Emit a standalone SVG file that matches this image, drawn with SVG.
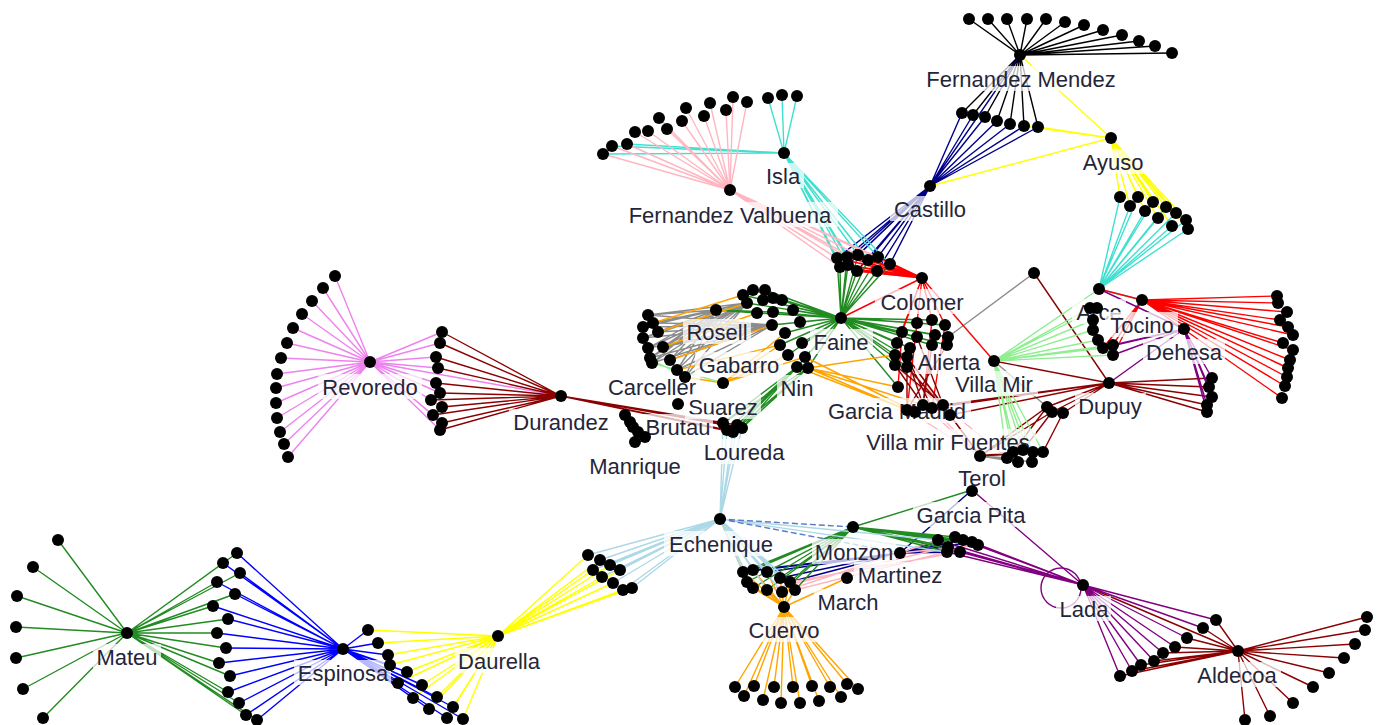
<svg xmlns="http://www.w3.org/2000/svg" width="1385" height="725" viewBox="0 0 1385 725">
<style>
.e{fill:none;stroke-width:1.4}
.k{stroke:#000}
.nv{stroke:#00008b}
.yl{stroke:#ffff00}
.tq{stroke:#40e0d0}
.pk{stroke:#ffb6c1}
.gn{stroke:#228b22}
.rd{stroke:#ff0000}
.gy{stroke:#8c8c8c}
.or{stroke:#ffa500}
.vi{stroke:#ee82ee}
.dr{stroke:#8b0000}
.lg{stroke:#90ee90}
.pu{stroke:#800080}
.lb{stroke:#add8e6}
.bl{stroke:#0000ff}
.ds{stroke:#5a78c8;stroke-dasharray:6 3}
.lab rect{fill:#fff;fill-opacity:.72}
.lab text{font-family:"Liberation Sans",Arial,sans-serif;font-size:22px;fill:#25253a;text-anchor:middle}
circle.d{fill:#000;r:6px}
</style>
<rect width="1385" height="725" fill="#fff"/>
<g id="connectors">
<path class="e k" d="M1020 55L969 19M1020 55L988 19M1020 55L1007 19M1020 55L1027 19M1020 55L1046 19M1020 55L1065 22M1020 55L1084 25M1020 55L1103 30M1020 55L1122 35M1020 55L1139 41M1020 55L1155 46M1020 55L1172 53M1020 55L962 113M1020 55L973 115M1020 55L985 117M1020 55L997 121M1020 55L1010 124M1020 55L1024 126M1020 55L1038 127"/>
<path class="e nv" d="M930 186L962 113M930 186L973 115M930 186L985 117M930 186L997 121M930 186L1010 124M930 186L1024 126M930 186L1038 127M930 186L1020 55M930 186L837 258M930 186L847 257M930 186L858 255M930 186L868 260M930 186L878 257M930 186L890 264M930 186L840 267M930 186L857 271M930 186L877 271M930 186L848 265M900 553L938 540M900 553L948 547M900 553L955 537M900 553L963 540M900 553L972 542M900 553L978 545M900 553L960 552M900 553L947 552M900 553L743 572M900 553L753 570M900 553L767 572M900 553L780 578M900 553L790 582M900 553L972 490"/>
<path class="e yl" d="M1020 55L1111 138M930 186L1111 138M1038 127L1111 138M1024 126L1111 138M1111 138L1120 197M1111 138L1130 206M1111 138L1138 197M1111 138L1145 211M1111 138L1153 202M1111 138L1158 218M1111 138L1166 207M1111 138L1172 226M1111 138L1176 213M1111 138L1186 220M1111 138L1188 229M498 636L588 555M498 636L600 560M498 636L610 565M498 636L620 570M498 636L593 570M498 636L602 577M498 636L613 583M498 636L623 590M498 636L632 588M498 636L368 630M498 636L378 643M498 636L388 655M498 636L390 665M498 636L407 672M498 636L398 683M498 636L422 685M498 636L413 698M498 636L437 697M498 636L429 709M498 636L453 707M498 636L447 718M498 636L463 719"/>
<path class="e tq" d="M1120 197L1099 289M1130 206L1099 289M1138 197L1099 289M1145 211L1099 289M1153 202L1099 289M1158 218L1099 289M1166 207L1099 289M1172 226L1099 289M1176 213L1099 289M1186 220L1099 289M1188 229L1099 289M1099 289L1142 300M784 153L768 98M784 153L782 95M784 153L797 96M784 153L603 154M784 153L612 146M784 153L627 144M784 153L837 258M784 153L847 257M784 153L858 255M784 153L868 260M784 153L878 257M784 153L890 264M784 153L840 267M784 153L857 271M784 153L877 271M784 153L848 265"/>
<path class="e pk" d="M730 190L635 132M730 190L648 131M730 190L659 118M730 190L667 129M730 190L682 121M730 190L686 108M730 190L704 116M730 190L710 103M730 190L726 110M730 190L733 97M730 190L747 102M730 190L603 154M730 190L612 146M730 190L627 144M730 190L837 258M730 190L847 257M730 190L858 255M730 190L868 260M730 190L878 257M730 190L890 264M730 190L840 267M730 190L857 271M730 190L877 271M730 190L848 265M795 590L947 552M782 592L938 540M790 582L960 552M767 590L948 547M900 553L978 545M907 410L980 456M923 405L980 456M932 408L980 456M950 415L980 456M943 405L1007 458M895 365L950 415M907 367L943 405"/>
<path class="e gy" d="M648 315L716 310M648 315L747 303M648 315L772 325M643 327L716 310M643 327L747 303M643 327L772 325M653 323L716 310M653 323L747 303M653 323L772 325M658 332L716 310M658 332L747 303M658 332L772 325M643 338L716 310M643 338L747 303M643 338L772 325M663 347L716 310M663 347L747 303M663 347L772 325M648 348L716 310M648 348L747 303M648 348L772 325M650 358L716 310M650 358L747 303M650 358L772 325M670 360L716 310M670 360L747 303M670 360L772 325M652 363L716 310M652 363L747 303M652 363L772 325M677 370L716 310M677 370L747 303M677 370L772 325M685 377L716 310M685 377L747 303M685 377L772 325M857 271L922 278M877 271L922 278M868 260L922 278M848 265L922 278M890 264L922 278M1034 273L948 337M980 456L1013 452M980 456L1023 450M980 456L1033 452M980 456L1043 452M980 456L1007 458M980 456L1018 462M980 456L1032 462M994 361L1047 407"/>
<path class="e gn" d="M841 318L837 258M841 318L847 257M841 318L858 255M841 318L868 260M841 318L878 257M841 318L890 264M841 318L840 267M841 318L857 271M841 318L877 271M841 318L848 265M841 318L743 295M841 318L753 290M841 318L765 290M841 318L747 303M841 318L763 300M841 318L773 298M841 318L782 300M841 318L757 313M841 318L773 312M841 318L793 310M841 318L772 325M841 318L785 333M841 318L800 322M841 318L780 345M841 318L802 343M841 318L788 355M841 318L805 357M841 318L797 367M841 318L808 368M841 318L917 323M841 318L932 320M841 318L945 325M841 318L902 332M841 318L917 337M841 318L935 335M841 318L897 343M841 318L910 348M841 318L932 345M841 318L947 345M841 318L895 355M841 318L907 357M841 318L895 365M841 318L907 367M841 318L948 337M841 318L898 387M797 367L723 423M797 367L727 430M797 367L733 432M797 367L737 425M797 367L742 428M808 368L723 423M808 368L733 432M808 368L742 428M716 310L757 313M716 310L773 312M127 633L58 540M127 633L33 567M127 633L17 596M127 633L16 627M127 633L16 658M127 633L23 689M127 633L43 718M127 633L237 553M127 633L223 563M127 633L240 573M127 633L217 582M127 633L235 594M127 633L213 606M127 633L228 619M127 633L217 633M127 633L226 648M127 633L219 663M127 633L230 676M127 633L228 692M127 633L239 703M127 633L246 715M127 633L257 720M853 527L743 572M853 527L753 570M853 527L767 572M853 527L747 582M853 527L753 588M853 527L767 590M853 527L780 578M853 527L782 592M853 527L795 590M853 527L790 582M853 527L938 540M853 527L948 547M853 527L955 537M853 527L963 540M853 527L972 542M853 527L978 545M853 527L960 552M853 527L947 552M853 527L972 490"/>
<path class="e rd" d="M922 278L837 258M922 278L847 257M922 278L858 255M922 278L868 260M922 278L878 257M922 278L890 264M922 278L840 267M922 278L857 271M922 278L877 271M922 278L848 265M922 278L841 318M922 278L994 361M922 278L917 323M922 278L932 320M922 278L902 332M922 278L897 343M922 278L945 325M917 323L907 410M932 320L923 405M945 325L932 408M902 332L898 387M1142 300L1277 296M1142 300L1278 303M1142 300L1287 312M1142 300L1280 320M1142 300L1288 327M1142 300L1293 335M1142 300L1283 343M1142 300L1293 350M1142 300L1290 360M1142 300L1288 368M1142 300L1287 377M1142 300L1285 386M1142 300L1282 398M1142 300L1113 345M1142 300L1113 355M1142 300L1103 348M1142 300L1099 289"/>
<path class="e or" d="M723 383L780 345M723 383L788 355M723 383L805 357M723 383L785 333M808 368L907 410M808 368L923 405M808 368L898 387M797 367L907 410M805 357L915 412M808 368L895 355M658 332L747 303M663 347L757 313M670 360L772 325M677 370L780 345M653 323L743 295M685 377L723 383M784 607L735 687M784 607L744 696M784 607L754 686M784 607L763 700M784 607L774 687M784 607L781 703M784 607L793 687M784 607L800 703M784 607L812 686M784 607L819 701M784 607L830 687M784 607L841 697M784 607L847 684M784 607L858 689M784 607L743 572M784 607L753 570M784 607L767 572M784 607L747 582M784 607L753 588M784 607L767 590M784 607L780 578M784 607L782 592M784 607L795 590M784 607L790 582M784 607L847 578M720 519L743 572"/>
<path class="e vi" d="M370 362L335 276M370 362L323 288M370 362L312 301M370 362L302 314M370 362L293 328M370 362L287 343M370 362L281 358M370 362L277 374M370 362L276 388M370 362L276 403M370 362L277 418M370 362L280 432M370 362L284 444M370 362L288 457M370 362L442 332M370 362L440 343M370 362L436 357M370 362L438 368M370 362L436 383M370 362L440 393M370 362L431 400M370 362L442 407M370 362L433 415M370 362L442 423M370 362L440 430M370 362L561 396"/>
<path class="e dr" d="M561 396L442 332M561 396L440 343M561 396L436 357M561 396L438 368M561 396L436 383M561 396L440 393M561 396L431 400M561 396L442 407M561 396L433 415M561 396L442 423M561 396L440 430M561 396L723 423M561 396L727 430M561 396L733 432M561 396L737 425M561 396L742 428M1109 383L1212 378M1109 383L1209 387M1109 383L1212 397M1109 383L1207 405M1109 383L1207 412M1109 383L994 361M1109 383L1034 273M1109 383L1047 407M1109 383L1052 412M1109 383L1063 413M1109 383L950 415M1109 383L943 405M1109 383L932 408M1109 383L907 410M907 357L907 410M907 357L923 405M907 357L932 408M907 357L943 405M907 357L950 415M895 365L923 405M895 365L943 405M907 367L950 415M917 337L943 405M932 345L923 405M947 345L907 410M980 456L950 415M980 456L1047 407M980 456L1052 412M1063 413L1043 452M1047 407L1013 452M1052 412L1023 450M980 456L1013 452M980 456L1043 452M1238 651L1367 617M1238 651L1365 630M1238 651L1355 644M1238 651L1344 658M1238 651L1329 673M1238 651L1313 687M1238 651L1293 703M1238 651L1270 716M1238 651L1245 720M1238 651L1216 620M1238 651L1203 628M1238 651L1187 638M1238 651L1175 647M1238 651L1163 653M1238 651L1154 661M1238 651L1141 665M1238 651L1132 671M1238 651L1120 676M1238 651L1083 585"/>
<path class="e lg" d="M994 361L1090 308M994 361L1097 308M994 361L1093 320M994 361L1093 330M994 361L1098 340M994 361L1103 348M994 361L1113 345M994 361L1113 355M994 361L1099 289M994 361L1013 452M994 361L1023 450M994 361L1033 452M994 361L1043 452M994 361L1007 458M994 361L1018 462M994 361L1032 462M652 363L723 383M648 358L685 377"/>
<path class="e pu" d="M1184 329L1212 378M1184 329L1209 387M1184 329L1212 397M1184 329L1207 405M1184 329L1207 412M1184 329L1113 345M1184 329L1113 355M1184 329L1103 348M1184 329L1099 289M1184 329L1109 383M1083 585L938 540M1083 585L948 547M1083 585L955 537M1083 585L963 540M1083 585L972 542M1083 585L978 545M1083 585L960 552M1083 585L947 552M1083 585L972 490M1083 585L1216 620M1083 585L1203 628M1083 585L1187 638M1083 585L1175 647M1083 585L1163 653M1083 585L1154 661M1083 585L1141 665M1083 585L1132 671M1083 585L1120 676"/>
<circle class="e pu" cx="1061" cy="588" r="20"/>
<path class="e lb" d="M720 519L723 423M720 519L727 430M720 519L733 432M720 519L737 425M720 519L742 428M720 519L588 555M720 519L600 560M720 519L610 565M720 519L620 570M720 519L593 570M720 519L602 577M720 519L613 583M720 519L623 590M720 519L632 588M720 519L753 570M720 519L767 572M720 519L747 582M720 519L753 588M720 519L767 590M720 519L780 578M720 519L782 592M720 519L795 590M720 519L790 582M720 519L938 540M720 519L947 552"/>
<path class="e ds" d="M720 519L853 527M720 519L900 553"/>
<path class="e bl" d="M343 649L237 553M343 649L223 563M343 649L240 573M343 649L217 582M343 649L235 594M343 649L213 606M343 649L228 619M343 649L217 633M343 649L226 648M343 649L219 663M343 649L230 676M343 649L228 692M343 649L239 703M343 649L246 715M343 649L257 720M343 649L368 630M343 649L378 643M343 649L388 655M343 649L390 665M343 649L407 672M343 649L398 683M343 649L422 685M343 649L413 698M343 649L437 697M343 649L429 709M343 649L453 707M343 649L447 718M343 649L463 719"/>
</g>
<g id="node-fernandez-mendez" class="lab"><rect x="920" y="66" width="202" height="25"/><text x="1021" y="87">Fernandez Mendez</text><circle class="d" cx="1020" cy="55" r="5.5"/></g>
<g id="node-ayuso" class="lab"><rect x="1079" y="149" width="67" height="25"/><text x="1113" y="170">Ayuso</text><circle class="d" cx="1111" cy="138" r="5.5"/></g>
<g id="node-castillo" class="lab"><rect x="890" y="196" width="80" height="25"/><text x="930" y="217">Castillo</text><circle class="d" cx="930" cy="186" r="5.5"/></g>
<g id="node-isla" class="lab"><rect x="763" y="163" width="41" height="25"/><text x="783" y="184">Isla</text><circle class="d" cx="784" cy="153" r="5.5"/></g>
<g id="node-fernandez-valbuena" class="lab"><rect x="622" y="202" width="216" height="25"/><text x="730" y="223">Fernandez Valbuena</text><circle class="d" cx="730" cy="190" r="5.5"/></g>
<g id="node-colomer" class="lab"><rect x="875" y="289" width="93" height="25"/><text x="922" y="310">Colomer</text><circle class="d" cx="922" cy="278" r="5.5"/></g>
<g id="node-faine" class="lab"><rect x="810" y="329" width="63" height="25"/><text x="841" y="350">Faine</text><circle class="d" cx="841" cy="318" r="5.5"/></g>
<g id="node-rosell" class="lab"><rect x="683" y="319" width="68" height="25"/><text x="717" y="340">Rosell</text><circle class="d" cx="716" cy="310" r="5.5"/></g>
<g id="node-gabarro" class="lab"><rect x="695" y="352" width="88" height="25"/><text x="739" y="373">Gabarro</text><circle class="d" cx="757" cy="313" r="5.5"/></g>
<g id="node-carceller" class="lab"><rect x="604" y="374" width="96" height="25"/><text x="652" y="395">Carceller</text><circle class="d" cx="652" cy="363" r="5.5"/></g>
<g id="node-suarez" class="lab"><rect x="685" y="394" width="76" height="25"/><text x="723" y="415">Suarez</text><circle class="d" cx="723" cy="383" r="5.5"/></g>
<g id="node-brutau" class="lab"><rect x="644" y="414" width="69" height="25"/><text x="678" y="435">Brutau</text><circle class="d" cx="678" cy="404" r="5.5"/></g>
<g id="node-nin" class="lab"><rect x="777" y="375" width="39" height="25"/><text x="797" y="396">Nin</text><circle class="d" cx="797" cy="367" r="5.5"/></g>
<g id="node-manrique" class="lab"><rect x="585" y="453" width="101" height="25"/><text x="635" y="474">Manrique</text><circle class="d" cx="635" cy="442" r="5.5"/></g>
<g id="node-loureda" class="lab"><rect x="700" y="439" width="88" height="25"/><text x="744" y="460">Loureda</text><circle class="d" cx="742" cy="428" r="5.5"/></g>
<g id="node-durandez" class="lab"><rect x="509" y="409" width="104" height="25"/><text x="561" y="430">Durandez</text><circle class="d" cx="561" cy="396" r="5.5"/></g>
<g id="node-revoredo" class="lab"><rect x="318" y="374" width="104" height="25"/><text x="370" y="395">Revoredo</text><circle class="d" cx="370" cy="362" r="5.5"/></g>
<g id="node-alierta" class="lab"><rect x="915" y="349" width="68" height="25"/><text x="949" y="370">Alierta</text><circle class="d" cx="948" cy="337" r="5.5"/></g>
<g id="node-villa-mir" class="lab"><rect x="950" y="371" width="88" height="25"/><text x="994" y="392">Villa Mir</text><circle class="d" cx="994" cy="361" r="5.5"/></g>
<g id="node-garcia-madrid" class="lab"><rect x="823" y="398" width="148" height="25"/><text x="897" y="419">Garcia Madrid</text><circle class="d" cx="898" cy="387" r="5.5"/></g>
<g id="node-villa-mir-fuentes" class="lab"><rect x="860" y="429" width="176" height="25"/><text x="948" y="450">Villa mir Fuentes</text><circle class="d" cx="950" cy="415" r="5.5"/></g>
<g id="node-terol" class="lab"><rect x="954" y="465" width="56" height="25"/><text x="982" y="486">Terol</text><circle class="d" cx="980" cy="456" r="5.5"/></g>
<g id="node-garcia-pita" class="lab"><circle class="d" cx="972" cy="491" r="5"/><rect x="913" y="502" width="117" height="25"/><text x="971" y="523">Garcia Pita</text></g>
<g id="node-dupuy" class="lab"><rect x="1075" y="393" width="71" height="25"/><text x="1110" y="414">Dupuy</text><circle class="d" cx="1109" cy="383" r="5.5"/></g>
<g id="node-dehesa" class="lab"><rect x="1143" y="339" width="82" height="25"/><text x="1184" y="360">Dehesa</text><circle class="d" cx="1184" cy="329" r="5.5"/></g>
<g id="node-arce" class="lab"><rect x="1072" y="299" width="54" height="25"/><text x="1099" y="320">Arce</text><circle class="d" cx="1099" cy="289" r="5.5"/></g>
<g id="node-tocino" class="lab"><rect x="1105" y="312" width="73" height="25"/><text x="1142" y="333">Tocino</text><circle class="d" cx="1142" cy="300" r="5.5"/></g>
<g id="node-lada" class="lab"><rect x="1056" y="596" width="55" height="25"/><text x="1084" y="617">Lada</text><circle class="d" cx="1083" cy="585" r="5.5"/></g>
<g id="node-aldecoa" class="lab"><rect x="1194" y="662" width="87" height="25"/><text x="1237" y="683">Aldecoa</text><circle class="d" cx="1238" cy="651" r="5.5"/></g>
<g id="node-echenique" class="lab"><rect x="664" y="531" width="114" height="25"/><text x="721" y="552">Echenique</text><circle class="d" cx="720" cy="519" r="5.5"/></g>
<g id="node-monzon" class="lab"><rect x="812" y="539" width="84" height="25"/><text x="854" y="560">Monzon</text><circle class="d" cx="853" cy="527" r="5.5"/></g>
<g id="node-martinez" class="lab"><rect x="854" y="562" width="92" height="25"/><text x="900" y="583">Martinez</text><circle class="d" cx="900" cy="553" r="5.5"/></g>
<g id="node-march" class="lab"><rect x="814" y="589" width="67" height="25"/><text x="848" y="610">March</text><circle class="d" cx="847" cy="578" r="5.5"/></g>
<g id="node-cuervo" class="lab"><rect x="745" y="617" width="78" height="25"/><text x="784" y="638">Cuervo</text><circle class="d" cx="784" cy="607" r="5.5"/></g>
<g id="node-mateu" class="lab"><rect x="93" y="644" width="68" height="25"/><text x="127" y="665">Mateu</text><circle class="d" cx="127" cy="633" r="5.5"/></g>
<g id="node-espinosa" class="lab"><rect x="294" y="660" width="97" height="25"/><text x="343" y="681">Espinosa</text><circle class="d" cx="343" cy="649" r="5.5"/></g>
<g id="node-daurella" class="lab"><rect x="455" y="648" width="88" height="25"/><text x="499" y="669">Daurella</text><circle class="d" cx="498" cy="636" r="5.5"/></g>
<g id="leaves-fernandez-mendez">
<circle class="d" cx="969" cy="19" r="5.5"/><circle class="d" cx="988" cy="19" r="5.5"/><circle class="d" cx="1007" cy="19" r="5.5"/><circle class="d" cx="1027" cy="19" r="5.5"/><circle class="d" cx="1046" cy="19" r="5.5"/><circle class="d" cx="1065" cy="22" r="5.5"/><circle class="d" cx="1084" cy="25" r="5.5"/><circle class="d" cx="1103" cy="30" r="5.5"/><circle class="d" cx="1122" cy="35" r="5.5"/><circle class="d" cx="1139" cy="41" r="5.5"/><circle class="d" cx="1155" cy="46" r="5.5"/><circle class="d" cx="1172" cy="53" r="5.5"/>
<circle class="d" cx="962" cy="113" r="5.5"/><circle class="d" cx="973" cy="115" r="5.5"/><circle class="d" cx="985" cy="117" r="5.5"/><circle class="d" cx="997" cy="121" r="5.5"/><circle class="d" cx="1010" cy="124" r="5.5"/><circle class="d" cx="1024" cy="126" r="5.5"/><circle class="d" cx="1038" cy="127" r="5.5"/>
</g>
<g id="leaves-ayuso">
<circle class="d" cx="1120" cy="197" r="5.5"/><circle class="d" cx="1130" cy="206" r="5.5"/><circle class="d" cx="1138" cy="197" r="5.5"/><circle class="d" cx="1145" cy="211" r="5.5"/><circle class="d" cx="1153" cy="202" r="5.5"/><circle class="d" cx="1158" cy="218" r="5.5"/><circle class="d" cx="1166" cy="207" r="5.5"/><circle class="d" cx="1172" cy="226" r="5.5"/><circle class="d" cx="1176" cy="213" r="5.5"/><circle class="d" cx="1186" cy="220" r="5.5"/><circle class="d" cx="1188" cy="229" r="5.5"/>
</g>
<g id="leaves-isla-valbuena">
<circle class="d" cx="768" cy="98" r="5.5"/><circle class="d" cx="782" cy="95" r="5.5"/><circle class="d" cx="797" cy="96" r="5.5"/>
<circle class="d" cx="603" cy="154" r="5.5"/><circle class="d" cx="612" cy="146" r="5.5"/><circle class="d" cx="627" cy="144" r="5.5"/>
<circle class="d" cx="635" cy="132" r="5.5"/><circle class="d" cx="648" cy="131" r="5.5"/><circle class="d" cx="659" cy="118" r="5.5"/><circle class="d" cx="667" cy="129" r="5.5"/><circle class="d" cx="682" cy="121" r="5.5"/><circle class="d" cx="686" cy="108" r="5.5"/><circle class="d" cx="704" cy="116" r="5.5"/><circle class="d" cx="710" cy="103" r="5.5"/><circle class="d" cx="726" cy="110" r="5.5"/><circle class="d" cx="733" cy="97" r="5.5"/><circle class="d" cx="747" cy="102" r="5.5"/>
</g>
<g id="leaves-upper-cluster">
<circle class="d" cx="837" cy="258" r="5.5"/><circle class="d" cx="847" cy="257" r="5.5"/><circle class="d" cx="858" cy="255" r="5.5"/><circle class="d" cx="868" cy="260" r="5.5"/><circle class="d" cx="878" cy="257" r="5.5"/><circle class="d" cx="890" cy="264" r="5.5"/><circle class="d" cx="840" cy="267" r="5.5"/><circle class="d" cx="857" cy="271" r="5.5"/><circle class="d" cx="877" cy="271" r="5.5"/><circle class="d" cx="848" cy="265" r="5.5"/>
<circle class="d" cx="1034" cy="273" r="5.5"/>
</g>
<g id="leaves-revoredo">
<circle class="d" cx="335" cy="276" r="5.5"/><circle class="d" cx="323" cy="288" r="5.5"/><circle class="d" cx="312" cy="301" r="5.5"/><circle class="d" cx="302" cy="314" r="5.5"/><circle class="d" cx="293" cy="328" r="5.5"/><circle class="d" cx="287" cy="343" r="5.5"/><circle class="d" cx="281" cy="358" r="5.5"/><circle class="d" cx="277" cy="374" r="5.5"/><circle class="d" cx="276" cy="388" r="5.5"/><circle class="d" cx="276" cy="403" r="5.5"/><circle class="d" cx="277" cy="418" r="5.5"/><circle class="d" cx="280" cy="432" r="5.5"/><circle class="d" cx="284" cy="444" r="5.5"/><circle class="d" cx="288" cy="457" r="5.5"/>
<circle class="d" cx="442" cy="332" r="5.5"/><circle class="d" cx="440" cy="343" r="5.5"/><circle class="d" cx="436" cy="357" r="5.5"/><circle class="d" cx="438" cy="368" r="5.5"/><circle class="d" cx="436" cy="383" r="5.5"/><circle class="d" cx="440" cy="393" r="5.5"/><circle class="d" cx="431" cy="400" r="5.5"/><circle class="d" cx="442" cy="407" r="5.5"/><circle class="d" cx="433" cy="415" r="5.5"/><circle class="d" cx="442" cy="423" r="5.5"/><circle class="d" cx="440" cy="430" r="5.5"/>
</g>
<g id="leaves-rosell">
<circle class="d" cx="648" cy="315" r="5.5"/><circle class="d" cx="643" cy="327" r="5.5"/><circle class="d" cx="653" cy="323" r="5.5"/><circle class="d" cx="658" cy="332" r="5.5"/><circle class="d" cx="643" cy="338" r="5.5"/><circle class="d" cx="663" cy="347" r="5.5"/><circle class="d" cx="648" cy="348" r="5.5"/><circle class="d" cx="650" cy="358" r="5.5"/><circle class="d" cx="670" cy="360" r="5.5"/><circle class="d" cx="677" cy="370" r="5.5"/><circle class="d" cx="685" cy="377" r="5.5"/>
<circle class="d" cx="743" cy="295" r="5.5"/><circle class="d" cx="753" cy="290" r="5.5"/><circle class="d" cx="765" cy="290" r="5.5"/><circle class="d" cx="747" cy="303" r="5.5"/><circle class="d" cx="763" cy="300" r="5.5"/><circle class="d" cx="773" cy="298" r="5.5"/><circle class="d" cx="782" cy="300" r="5.5"/><circle class="d" cx="773" cy="312" r="5.5"/><circle class="d" cx="793" cy="310" r="5.5"/><circle class="d" cx="772" cy="325" r="5.5"/><circle class="d" cx="785" cy="333" r="5.5"/><circle class="d" cx="800" cy="322" r="5.5"/><circle class="d" cx="780" cy="345" r="5.5"/><circle class="d" cx="802" cy="343" r="5.5"/><circle class="d" cx="788" cy="355" r="5.5"/><circle class="d" cx="805" cy="357" r="5.5"/><circle class="d" cx="808" cy="368" r="5.5"/>
</g>
<g id="leaves-manrique-loureda">
<circle class="d" cx="625" cy="415" r="5.5"/><circle class="d" cx="630" cy="422" r="5.5"/><circle class="d" cx="633" cy="427" r="5.5"/><circle class="d" cx="638" cy="432" r="5.5"/><circle class="d" cx="645" cy="437" r="5.5"/>
<circle class="d" cx="723" cy="423" r="5.5"/><circle class="d" cx="727" cy="430" r="5.5"/><circle class="d" cx="733" cy="432" r="5.5"/><circle class="d" cx="737" cy="425" r="5.5"/>
</g>
<g id="leaves-alierta">
<circle class="d" cx="917" cy="323" r="5.5"/><circle class="d" cx="932" cy="320" r="5.5"/><circle class="d" cx="945" cy="325" r="5.5"/><circle class="d" cx="902" cy="332" r="5.5"/><circle class="d" cx="917" cy="337" r="5.5"/><circle class="d" cx="935" cy="335" r="5.5"/><circle class="d" cx="897" cy="343" r="5.5"/><circle class="d" cx="910" cy="348" r="5.5"/><circle class="d" cx="932" cy="345" r="5.5"/><circle class="d" cx="947" cy="345" r="5.5"/><circle class="d" cx="895" cy="355" r="5.5"/><circle class="d" cx="907" cy="357" r="5.5"/><circle class="d" cx="895" cy="365" r="5.5"/><circle class="d" cx="907" cy="367" r="5.5"/>
<circle class="d" cx="907" cy="410" r="5.5"/><circle class="d" cx="923" cy="405" r="5.5"/><circle class="d" cx="932" cy="408" r="5.5"/><circle class="d" cx="943" cy="405" r="5.5"/><circle class="d" cx="915" cy="412" r="5.5"/>
</g>
<g id="leaves-tocino-dupuy">
<circle class="d" cx="1090" cy="308" r="5.5"/><circle class="d" cx="1097" cy="308" r="5.5"/><circle class="d" cx="1093" cy="320" r="5.5"/><circle class="d" cx="1093" cy="330" r="5.5"/><circle class="d" cx="1098" cy="340" r="5.5"/><circle class="d" cx="1103" cy="348" r="5.5"/><circle class="d" cx="1113" cy="345" r="5.5"/><circle class="d" cx="1113" cy="355" r="5.5"/>
<circle class="d" cx="1277" cy="296" r="5.5"/><circle class="d" cx="1278" cy="303" r="5.5"/><circle class="d" cx="1287" cy="312" r="5.5"/><circle class="d" cx="1280" cy="320" r="5.5"/><circle class="d" cx="1288" cy="327" r="5.5"/><circle class="d" cx="1293" cy="335" r="5.5"/><circle class="d" cx="1283" cy="343" r="5.5"/><circle class="d" cx="1293" cy="350" r="5.5"/><circle class="d" cx="1290" cy="360" r="5.5"/><circle class="d" cx="1288" cy="368" r="5.5"/><circle class="d" cx="1287" cy="377" r="5.5"/><circle class="d" cx="1285" cy="386" r="5.5"/><circle class="d" cx="1282" cy="398" r="5.5"/>
<circle class="d" cx="1212" cy="378" r="5.5"/><circle class="d" cx="1209" cy="387" r="5.5"/><circle class="d" cx="1212" cy="397" r="5.5"/><circle class="d" cx="1207" cy="405" r="5.5"/><circle class="d" cx="1207" cy="412" r="5.5"/>
<circle class="d" cx="1047" cy="407" r="5.5"/><circle class="d" cx="1052" cy="412" r="5.5"/><circle class="d" cx="1063" cy="413" r="5.5"/>
</g>
<g id="leaves-terol">
<circle class="d" cx="1013" cy="452" r="5.5"/><circle class="d" cx="1023" cy="450" r="5.5"/><circle class="d" cx="1033" cy="452" r="5.5"/><circle class="d" cx="1043" cy="452" r="5.5"/><circle class="d" cx="1007" cy="458" r="5.5"/><circle class="d" cx="1018" cy="462" r="5.5"/><circle class="d" cx="1032" cy="462" r="5.5"/>
</g>
<g id="leaves-garcia-pita">
<circle class="d" cx="938" cy="540" r="5.5"/><circle class="d" cx="948" cy="547" r="5.5"/><circle class="d" cx="955" cy="537" r="5.5"/><circle class="d" cx="963" cy="540" r="5.5"/><circle class="d" cx="972" cy="542" r="5.5"/><circle class="d" cx="978" cy="545" r="5.5"/><circle class="d" cx="960" cy="552" r="5.5"/><circle class="d" cx="947" cy="552" r="5.5"/>
</g>
<g id="leaves-martinez-cuervo">
<circle class="d" cx="743" cy="572" r="5.5"/><circle class="d" cx="753" cy="570" r="5.5"/><circle class="d" cx="767" cy="572" r="5.5"/><circle class="d" cx="747" cy="582" r="5.5"/><circle class="d" cx="753" cy="588" r="5.5"/><circle class="d" cx="767" cy="590" r="5.5"/><circle class="d" cx="780" cy="578" r="5.5"/><circle class="d" cx="782" cy="592" r="5.5"/><circle class="d" cx="795" cy="590" r="5.5"/><circle class="d" cx="790" cy="582" r="5.5"/>
<circle class="d" cx="735" cy="687" r="5.5"/><circle class="d" cx="744" cy="696" r="5.5"/><circle class="d" cx="754" cy="686" r="5.5"/><circle class="d" cx="763" cy="700" r="5.5"/><circle class="d" cx="774" cy="687" r="5.5"/><circle class="d" cx="781" cy="703" r="5.5"/><circle class="d" cx="793" cy="687" r="5.5"/><circle class="d" cx="800" cy="703" r="5.5"/><circle class="d" cx="812" cy="686" r="5.5"/><circle class="d" cx="819" cy="701" r="5.5"/><circle class="d" cx="830" cy="687" r="5.5"/><circle class="d" cx="841" cy="697" r="5.5"/><circle class="d" cx="847" cy="684" r="5.5"/><circle class="d" cx="858" cy="689" r="5.5"/>
</g>
<g id="leaves-daurella">
<circle class="d" cx="588" cy="555" r="5.5"/><circle class="d" cx="600" cy="560" r="5.5"/><circle class="d" cx="610" cy="565" r="5.5"/><circle class="d" cx="620" cy="570" r="5.5"/><circle class="d" cx="593" cy="570" r="5.5"/><circle class="d" cx="602" cy="577" r="5.5"/><circle class="d" cx="613" cy="583" r="5.5"/><circle class="d" cx="623" cy="590" r="5.5"/><circle class="d" cx="632" cy="588" r="5.5"/>
<circle class="d" cx="368" cy="630" r="5.5"/><circle class="d" cx="378" cy="643" r="5.5"/><circle class="d" cx="388" cy="655" r="5.5"/><circle class="d" cx="390" cy="665" r="5.5"/><circle class="d" cx="407" cy="672" r="5.5"/><circle class="d" cx="398" cy="683" r="5.5"/><circle class="d" cx="422" cy="685" r="5.5"/><circle class="d" cx="413" cy="698" r="5.5"/><circle class="d" cx="437" cy="697" r="5.5"/><circle class="d" cx="429" cy="709" r="5.5"/><circle class="d" cx="453" cy="707" r="5.5"/><circle class="d" cx="447" cy="718" r="5.5"/><circle class="d" cx="463" cy="719" r="5.5"/>
</g>
<g id="leaves-mateu-espinosa">
<circle class="d" cx="58" cy="540" r="5.5"/><circle class="d" cx="33" cy="567" r="5.5"/><circle class="d" cx="17" cy="596" r="5.5"/><circle class="d" cx="16" cy="627" r="5.5"/><circle class="d" cx="16" cy="658" r="5.5"/><circle class="d" cx="23" cy="689" r="5.5"/><circle class="d" cx="43" cy="718" r="5.5"/>
<circle class="d" cx="237" cy="553" r="5.5"/><circle class="d" cx="223" cy="563" r="5.5"/><circle class="d" cx="240" cy="573" r="5.5"/><circle class="d" cx="217" cy="582" r="5.5"/><circle class="d" cx="235" cy="594" r="5.5"/><circle class="d" cx="213" cy="606" r="5.5"/><circle class="d" cx="228" cy="619" r="5.5"/><circle class="d" cx="217" cy="633" r="5.5"/><circle class="d" cx="226" cy="648" r="5.5"/><circle class="d" cx="219" cy="663" r="5.5"/><circle class="d" cx="230" cy="676" r="5.5"/><circle class="d" cx="228" cy="692" r="5.5"/><circle class="d" cx="239" cy="703" r="5.5"/><circle class="d" cx="246" cy="715" r="5.5"/><circle class="d" cx="257" cy="720" r="5.5"/>
</g>
<g id="leaves-lada-aldecoa">
<circle class="d" cx="1216" cy="620" r="5.5"/><circle class="d" cx="1203" cy="628" r="5.5"/><circle class="d" cx="1187" cy="638" r="5.5"/><circle class="d" cx="1175" cy="647" r="5.5"/><circle class="d" cx="1163" cy="653" r="5.5"/><circle class="d" cx="1154" cy="661" r="5.5"/><circle class="d" cx="1141" cy="665" r="5.5"/><circle class="d" cx="1132" cy="671" r="5.5"/><circle class="d" cx="1120" cy="676" r="5.5"/>
<circle class="d" cx="1367" cy="617" r="5.5"/><circle class="d" cx="1365" cy="630" r="5.5"/><circle class="d" cx="1355" cy="644" r="5.5"/><circle class="d" cx="1344" cy="658" r="5.5"/><circle class="d" cx="1329" cy="673" r="5.5"/><circle class="d" cx="1313" cy="687" r="5.5"/><circle class="d" cx="1293" cy="703" r="5.5"/><circle class="d" cx="1270" cy="716" r="5.5"/><circle class="d" cx="1245" cy="720" r="5.5"/>
</g>
</svg>
